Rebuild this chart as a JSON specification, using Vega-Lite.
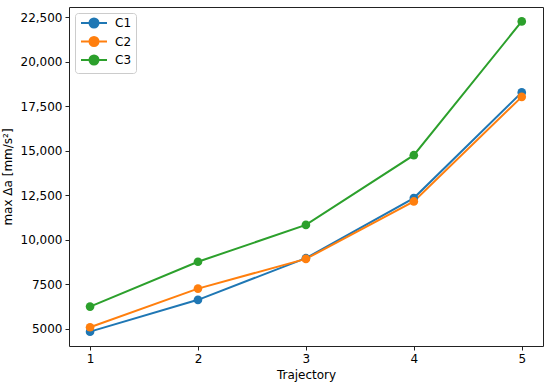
{
  "$schema": "https://vega.github.io/schema/vega-lite/v6.json",
  "width": 474,
  "height": 339,
  "autosize": {"type": "none"},
  "padding": {"left": 69, "top": 7, "right": 7, "bottom": 44},
  "background": "white",
  "config": {
    "font": "DejaVu Sans",
    "view": {"stroke": "#222", "strokeWidth": 1},
    "axis": {
      "grid": false,
      "domain": false,
      "tickColor": "#222",
      "tickSize": 4,
      "tickWidth": 1,
      "labelFontSize": 12,
      "labelColor": "#000",
      "labelPadding": 3,
      "titleFontSize": 12,
      "titleFontWeight": "normal",
      "titleColor": "#000"
    }
  },
  "data": {
    "values": [
      {"t": 1, "v": 4830, "s": "C1"},
      {"t": 2, "v": 6620, "s": "C1"},
      {"t": 3, "v": 8960, "s": "C1"},
      {"t": 4, "v": 12340, "s": "C1"},
      {"t": 5, "v": 18280, "s": "C1"},
      {"t": 1, "v": 5080, "s": "C2"},
      {"t": 2, "v": 7250, "s": "C2"},
      {"t": 3, "v": 8920, "s": "C2"},
      {"t": 4, "v": 12150, "s": "C2"},
      {"t": 5, "v": 18030, "s": "C2"},
      {"t": 1, "v": 6240, "s": "C3"},
      {"t": 2, "v": 8760, "s": "C3"},
      {"t": 3, "v": 10830, "s": "C3"},
      {"t": 4, "v": 14750, "s": "C3"},
      {"t": 5, "v": 22270, "s": "C3"}
    ]
  },
  "encoding": {
    "x": {
      "field": "t", "type": "quantitative",
      "scale": {"domain": [0.805, 5.197], "nice": false, "zero": false},
      "axis": {"values": [1, 2, 3, 4, 5], "format": "d", "title": "Trajectory", "titlePadding": 5}
    },
    "y": {
      "field": "v", "type": "quantitative",
      "scale": {"domain": [4024, 23081], "nice": false, "zero": false},
      "axis": {
        "values": [5000, 7500, 10000, 12500, 15000, 17500, 20000, 22500],
        "labelExpr": "datum.value >= 10000 ? format(datum.value, ',') : format(datum.value, 'd')",
        "title": "max Δa [mm/s²]",
        "titlePadding": 6
      }
    },
    "color": {
      "field": "s", "type": "nominal",
      "scale": {"domain": ["C1", "C2", "C3"], "range": ["#1f77b4", "#ff7f0e", "#2ca02c"]},
      "legend": {
        "title": null,
        "orient": "top-left",
        "offset": 6,
        "padding": 4,
        "rowPadding": 0.5,
        "strokeColor": "#cccccc",
        "fillColor": "white",
        "cornerRadius": 3,
        "labelFontSize": 12,
        "labelColor": "#000",
        "symbolType": "M-1,0L5.5,0M3.375,0C3.375,0.621 2.871,1.125 2.25,1.125C1.629,1.125 1.125,0.621 1.125,0C1.125,-0.621 1.629,-1.125 2.25,-1.125C2.871,-1.125 3.375,-0.621 3.375,0Z",
        "symbolSize": 64,
        "symbolStrokeWidth": 2,
        "labelOffset": 24
      }
    }
  },
  "layer": [
    {"mark": {"type": "line", "strokeWidth": 2}},
    {"mark": {"type": "point", "filled": true, "opacity": 1, "size": 75}}
  ]
}
